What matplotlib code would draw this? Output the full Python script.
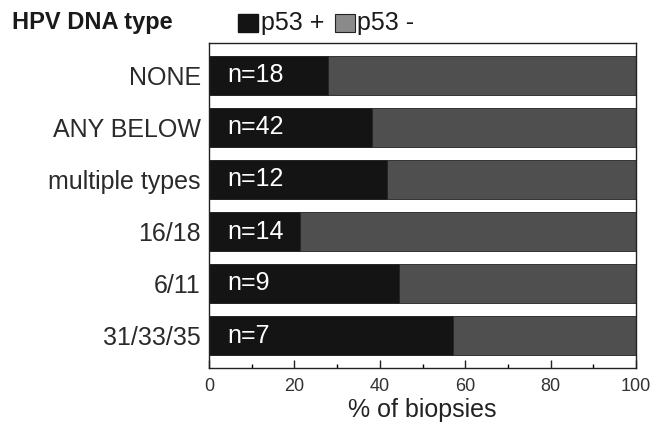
import matplotlib
matplotlib.use("Agg")
import matplotlib.pyplot as plt
from matplotlib.patches import Rectangle

categories = ["NONE", "ANY BELOW", "multiple types", "16/18", "6/11", "31/33/35"]
n_counts = [18, 42, 12, 14, 9, 7]
p53_pos = [27.8, 38.1, 41.7, 21.4, 44.4, 57.1]
p53_neg = [100 - v for v in p53_pos]

plt.rcParams['font.family'] = ['Liberation Sans', 'DejaVu Sans']

fig = plt.figure(figsize=(6.65, 4.23), dpi=100)
ax = fig.add_axes([209 / 665, 1 - 368 / 423, 427 / 665, 325 / 423])

ypos = list(range(len(categories)))
ax.barh(ypos, p53_pos, height=0.75, color="#141414", edgecolor="#141414", linewidth=0.6)
ax.barh(ypos, p53_neg, left=p53_pos, height=0.75, color="#4f4f4f", edgecolor="#222222", linewidth=0.6)

for y, n in zip(ypos, n_counts):
    ax.text(4.3, y, f"n={n}", color="white", fontsize=18, va="center", ha="left")

ax.set_xlim(0, 100)
ax.set_ylim(len(categories) - 0.375, -0.625)
ax.set_yticks(ypos)
ax.set_yticklabels(categories, fontsize=18, color="#2a2a2a")
ax.tick_params(axis="y", length=0, pad=6)
ax.set_xticks([0, 20, 40, 60, 80, 100])
ax.set_xticks([10, 30, 50, 70, 90], minor=True)
ax.tick_params(axis="x", direction="in", length=6, width=1, labelsize=13, pad=7,
               colors="#222222", labelcolor="#333333")
ax.tick_params(axis="x", which="minor", direction="in", length=3, width=1)
ax.set_xlabel("% of biopsies", fontsize=18, labelpad=2, color="#222222")
for s in ax.spines.values():
    s.set_linewidth(1.0)
    s.set_color("#222222")

fig.text(12 / 665, 1 - 22 / 423, "HPV DNA type", fontsize=17, fontweight="bold",
         va="center", ha="left", color="#1a1a1a")
fig.patches.append(Rectangle((238 / 665, 1 - 32 / 423), 20 / 665, 18 / 423,
                             transform=fig.transFigure, facecolor="#141414", edgecolor="#141414"))
fig.text(261 / 665, 1 - 23 / 423, "p53 +", fontsize=18, va="center", ha="left", color="#1a1a1a")
fig.patches.append(Rectangle((335 / 665, 1 - 32 / 423), 20 / 665, 18 / 423,
                             transform=fig.transFigure, facecolor="#8a8a8a", edgecolor="#222222", linewidth=0.8))
fig.text(357 / 665, 1 - 23 / 423, "p53 -", fontsize=18, va="center", ha="left", color="#1a1a1a")

fig.savefig("out.png", dpi=100)
